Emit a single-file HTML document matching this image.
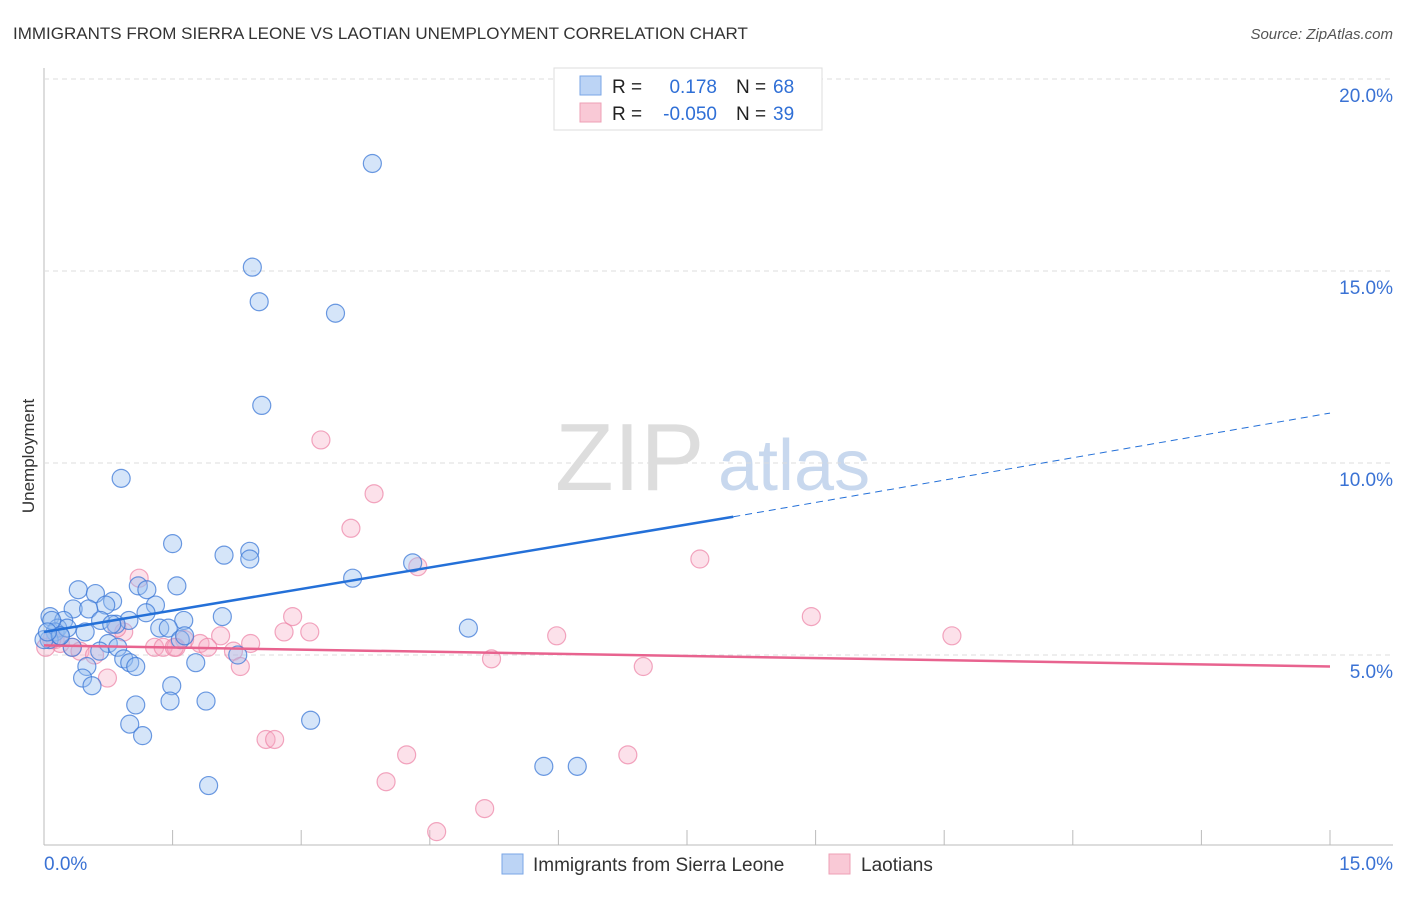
<!DOCTYPE html>
<html><head><meta charset="utf-8"><style>
body{margin:0;background:#fff;font-family:"Liberation Sans",sans-serif}
svg text{font-family:"Liberation Sans",sans-serif}
</style></head><body>
<svg id="c" width="1406" height="892">
<text x="13" y="39" font-size="17" fill="#333">IMMIGRANTS FROM SIERRA LEONE VS LAOTIAN UNEMPLOYMENT CORRELATION CHART</text>
<text x="1393" y="39" font-size="15" fill="#555" text-anchor="end" font-style="italic">Source: ZipAtlas.com</text>
<text x="34" y="456" font-size="17" fill="#333" text-anchor="middle" transform="rotate(-90 34 456)">Unemployment</text>
<text x="555" y="490" font-size="96" fill="#ddd" font-family="Liberation Serif">ZIP</text>
<text x="718" y="490" font-size="72" fill="#c8d8ee">atlas</text>
<g id="grid"></g><g id="pts"></g><g id="lines"></g>
<g>
<rect x="554" y="68" width="268" height="62" fill="#fff" stroke="#ddd"/>
<rect x="580" y="76" width="21" height="19" fill="#bcd4f5" stroke="#7aa6e6"/>
<rect x="580" y="103" width="21" height="19" fill="#f9c9d6" stroke="#eea0b6"/>
<text x="612" y="93" font-size="19" fill="#222">R =</text><text x="717" y="93" font-size="19" fill="#2f6fd6" text-anchor="end">0.178</text>
<text x="736" y="93" font-size="19" fill="#222">N =</text><text x="773" y="93" font-size="19" fill="#2f6fd6">68</text>
<text x="612" y="120" font-size="19" fill="#222">R =</text><text x="717" y="120" font-size="19" fill="#2f6fd6" text-anchor="end">-0.050</text>
<text x="736" y="120" font-size="19" fill="#222">N =</text><text x="773" y="120" font-size="19" fill="#2f6fd6">39</text>
</g>
<g>
<rect x="502" y="854" width="21" height="20" fill="#bcd4f5" stroke="#7aa6e6"/>
<text x="533" y="871" font-size="19" fill="#333">Immigrants from Sierra Leone</text>
<rect x="829" y="854" width="21" height="20" fill="#f9c9d6" stroke="#eea0b6"/>
<text x="861" y="871" font-size="19" fill="#333">Laotians</text>
</g>
</svg>
<script>
const yTicks=[5,10,15,20];
const xTickLabels=["0.0%","15.0%"];
const blueX=[3.83,2.43,2.51,3.4,2.54,0.9,1.5,2.1,2.4,2.4,4.3,3.6,0.4,0.6,1.1,1.2,1.55,0.8,0.72,0.34,0.52,1.3,1.19,0.07,1.63,2.08,0.99,0.66,0.23,0.16,0.84,0.79,1.35,1.45,0.48,0.13,0.06,0.19,4.95,1.59,0.75,1.64,0.33,0.65,0.86,0.93,1.0,1.07,2.26,1.77,0.5,0.45,0.56,1.49,1.07,1.47,1.89,1.0,1.15,3.11,5.83,6.22,1.92,0.27,0.0,0.09,0.19,0.04];
const blueY=[17.8,15.1,14.2,13.9,11.5,9.6,7.9,7.6,7.7,7.5,7.4,7.0,6.7,6.6,6.8,6.7,6.8,6.4,6.3,6.2,6.2,6.3,6.1,6.0,5.9,6.0,5.9,5.9,5.9,5.7,5.8,5.8,5.7,5.7,5.6,5.6,5.4,5.5,5.7,5.4,5.3,5.5,5.2,5.1,5.2,4.9,4.8,4.7,5.0,4.8,4.7,4.4,4.2,4.2,3.7,3.8,3.8,3.2,2.9,3.3,2.1,2.1,1.6,5.7,5.4,5.9,5.5,5.6];
const pinkX=[3.23,3.85,3.58,7.65,4.36,1.11,2.9,8.95,2.8,3.1,5.98,10.59,2.06,0.93,0.85,1.64,1.29,1.39,1.82,1.54,1.52,2.41,1.91,2.21,0.13,0.19,0.33,0.42,0.59,2.29,5.22,6.99,0.74,2.59,2.69,4.23,6.81,3.99,5.14,4.58,0.02,0.09];
const pinkY=[10.6,9.2,8.3,7.5,7.3,7.0,6.0,6.0,5.6,5.6,5.5,5.5,5.5,5.6,5.7,5.4,5.2,5.2,5.3,5.2,5.2,5.3,5.2,5.1,5.4,5.3,5.2,5.1,5.0,4.7,4.9,4.7,4.4,2.8,2.8,2.4,2.4,1.7,1.0,0.4,5.2,5.4];
const blueTrend=[[0,5.6],[8.04,8.6],[15,11.3]];
const pinkTrend=[[0,5.25],[15,4.7]];
const NS="http://www.w3.org/2000/svg";
const X=v=>44+v/15*1286, Y=v=>847-v*38.4;
function mk(t,a,p){const e=document.createElementNS(NS,t);for(const k in a)e.setAttribute(k,a[k]);p.appendChild(e);return e;}
const g=document.getElementById('grid');
const ax=mk('line',{x1:44,y1:68,x2:44,y2:845,stroke:'#bbb'},g);


const bx=mk('line',{x1:44,y1:845,x2:1393,y2:845,stroke:'#bbb'},g);


for(let i=1;i<=10;i++){const t=mk('line',{x1:X(i*1.5),x2:X(i*1.5),y1:830,y2:845,stroke:'#bbb'},g);

}
yTicks.forEach(v=>{const l=mk('line',{x1:44,x2:1393,y1:Y(v),y2:Y(v),stroke:'#ddd','stroke-dasharray':'5,4'},g);


const t=mk('text',{x:1393,y:Y(v)+23,'font-size':19,fill:'#3a72d4','text-anchor':'end'},g);t.textContent=v.toFixed(1)+'%';

});
const t0=mk('text',{x:44,y:870,'font-size':19,fill:'#3a72d4'},g);t0.textContent=xTickLabels[0];


const t1=mk('text',{x:1393,y:870,'font-size':19,fill:'#3a72d4','text-anchor':'end'},g);t1.textContent=xTickLabels[1];


const p=document.getElementById('pts');
pinkX.forEach((v,i)=>{const c=mk('circle',{cx:X(v),cy:Y(pinkY[i]),r:9,fill:'rgba(246,170,195,0.35)',stroke:'rgba(236,130,165,0.7)','stroke-width':1.2},p);

});
blueX.forEach((v,i)=>{const c=mk('circle',{cx:X(v),cy:Y(blueY[i]),r:9,fill:'rgba(150,190,240,0.4)',stroke:'rgba(60,120,215,0.75)','stroke-width':1.2},p);

});
const L=document.getElementById('lines');
const b1=mk('line',{x1:X(blueTrend[0][0]),y1:Y(blueTrend[0][1]),x2:X(blueTrend[1][0]),y2:Y(blueTrend[1][1]),stroke:'#2470d8','stroke-width':2.5},L);


const b2=mk('line',{x1:X(blueTrend[1][0]),y1:Y(blueTrend[1][1]),x2:X(blueTrend[2][0]),y2:Y(blueTrend[2][1]),stroke:'#2470d8','stroke-width':1,'stroke-dasharray':'7,5'},L);


const pl=mk('line',{x1:X(pinkTrend[0][0]),y1:Y(pinkTrend[0][1]),x2:X(pinkTrend[1][0]),y2:Y(pinkTrend[1][1]),stroke:'#e8638f','stroke-width':2.5},L);


</script>
</body></html>
